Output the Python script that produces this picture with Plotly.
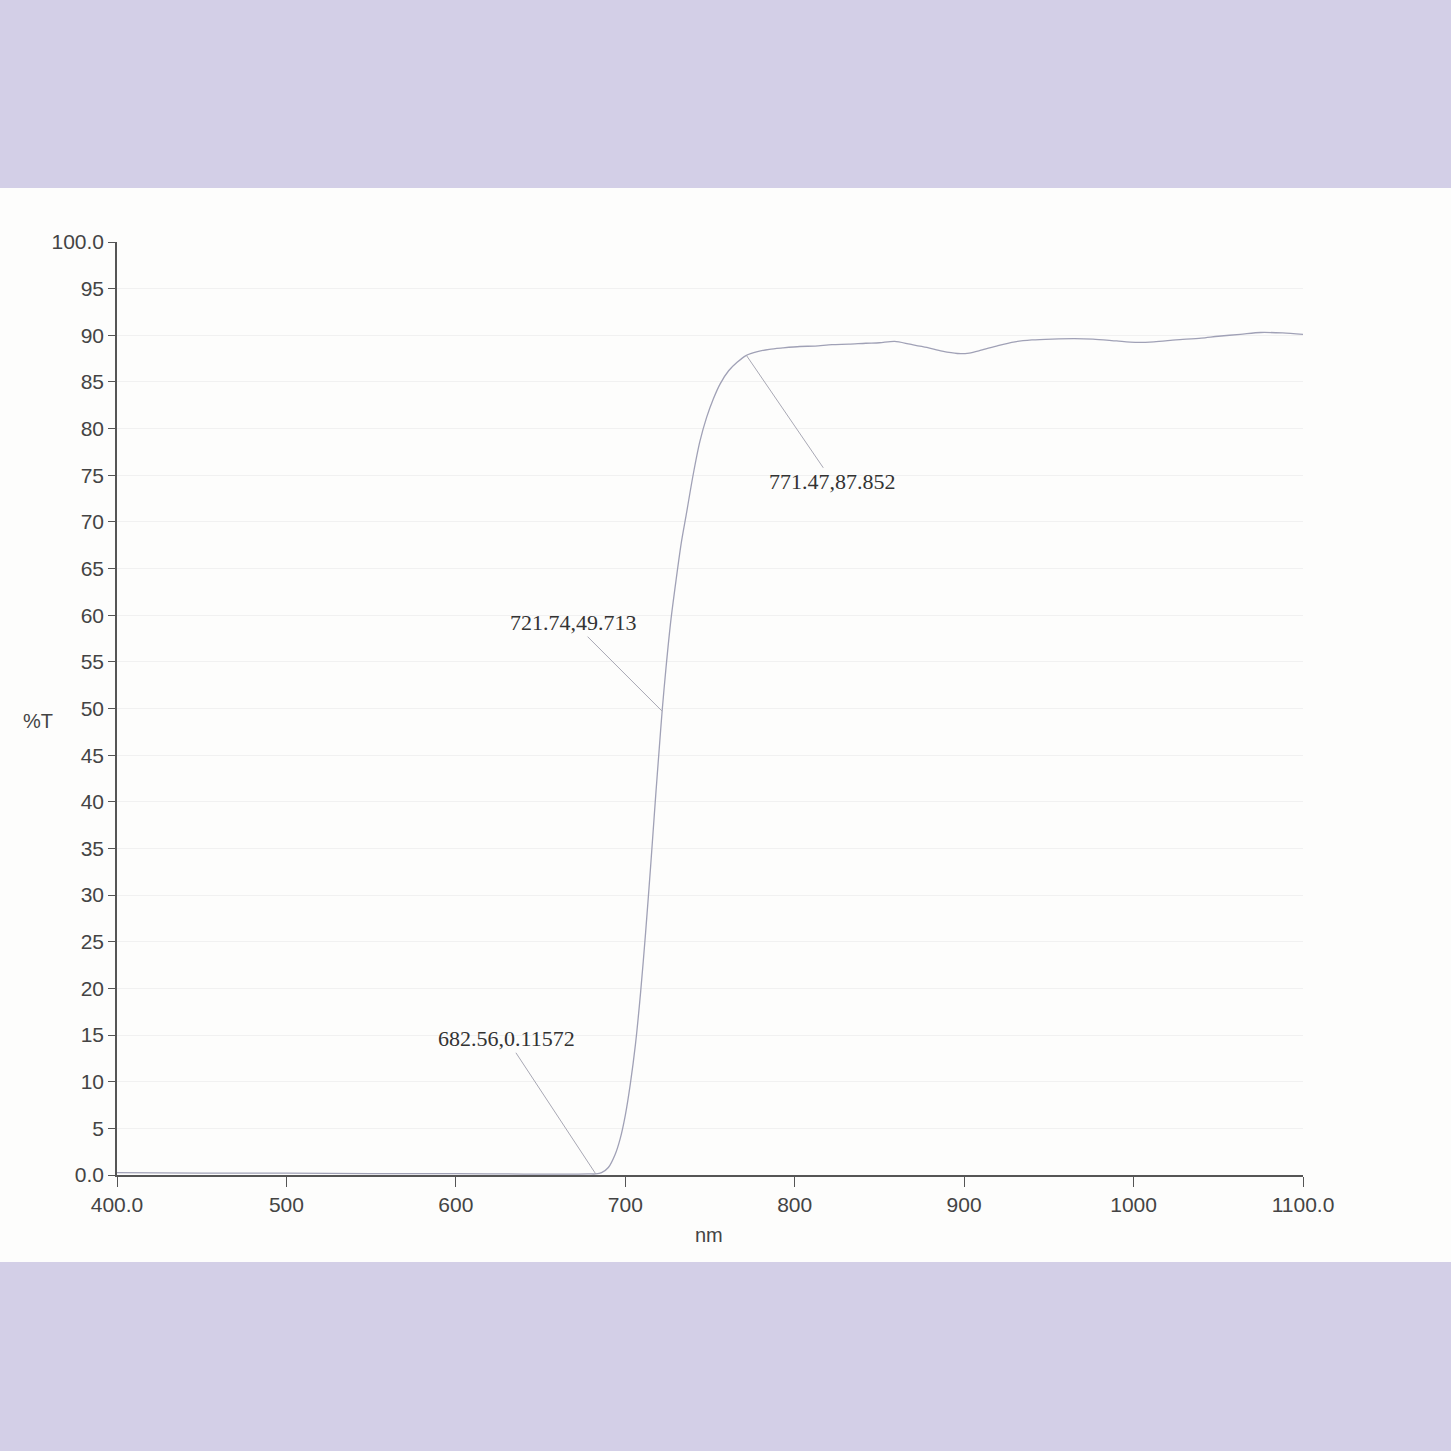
"""Transmission spectrum (%T vs nm) with three marked points."""

import plotly.graph_objects as go

# wavelength (nm) and transmittance (%T)
wavelength = [
    400, 450, 500, 550, 600, 640, 670, 678, 682.56, 686, 690, 694, 697,
    700, 703, 706, 709, 712, 715, 718, 720, 721.74, 724, 727, 730, 733,
    736, 740, 744, 748, 752, 756, 761, 766, 771.47, 778, 785, 793, 803,
    812, 822, 832, 842, 850, 859, 868, 878, 887, 896, 903, 910, 920, 930,
    940, 952, 965, 976, 990, 1001, 1012, 1025, 1040, 1050, 1063, 1075,
    1088, 1100,
]
transmittance = [
    0.25, 0.2, 0.2, 0.15, 0.15, 0.1, 0.1, 0.12, 0.11572, 0.25, 0.8, 2.2,
    3.9, 6.4, 9.8, 14.0, 19.5, 26.0, 33.2, 40.8, 45.6, 49.713, 54.3,
    59.6, 63.8, 67.7, 70.8, 75.0, 78.6, 81.2, 83.2, 84.8, 86.2, 87.1,
    87.852, 88.25, 88.5, 88.65, 88.8, 88.85, 89.0, 89.05, 89.15, 89.2,
    89.35, 89.05, 88.7, 88.3, 88.05, 88.1, 88.4, 88.9, 89.3, 89.5, 89.6,
    89.65, 89.6, 89.4, 89.25, 89.3, 89.5, 89.7, 89.9, 90.1, 90.3, 90.25,
    90.1,
]

# marked points: (nm, %T) and where the label text sits
mark_x = [682.56, 721.74, 771.47]
mark_y = [0.11572, 49.713, 87.852]
mark_text = ["682.56,0.11572", "721.74,49.713", "771.47,87.852"]
label_x = [630.0, 669.5, 822.5]
label_y = [14.6, 59.2, 74.3]

y_ticks = list(range(0, 101, 5))
y_ticktext = ["0.0"] + [str(v) for v in y_ticks[1:-1]] + ["100.0"]
x_ticks = [400, 500, 600, 700, 800, 900, 1000, 1100]
x_ticktext = ["400.0", "500", "600", "700", "800", "900", "1000", "1100.0"]

BAND = "#D3CFE7"
PAGE = "#FDFDFC"
AXIS = "#555555"

fig = go.Figure()
fig.add_trace(go.Scatter(
    x=wavelength,
    y=transmittance,
    mode="lines",
    line=dict(color="#A0A1B6", width=1.3, shape="spline", smoothing=0.8),
    hoverinfo="x+y",
    showlegend=False,
))

for px, py, txt, lx, ly in zip(mark_x, mark_y, mark_text, label_x, label_y):
    fig.add_annotation(
        x=px, y=py, ax=lx, ay=ly, axref="x", ayref="y",
        text=txt, showarrow=True, arrowhead=0, arrowwidth=1,
        arrowcolor="#A8A8B4", standoff=0,
        font=dict(family="Liberation Serif, Times New Roman, serif",
                  size=22, color="#333333"),
    )

# axis titles placed as in the scan
fig.add_annotation(x=-0.067, y=0.487, xref="paper", yref="paper", text="%T",
                   showarrow=False, xanchor="center", yanchor="middle",
                   font=dict(family="Liberation Sans, Arial", size=20, color="#444"))
fig.add_annotation(x=0.499, y=-0.064, xref="paper", yref="paper", text="nm",
                   showarrow=False, xanchor="center", yanchor="middle",
                   font=dict(family="Liberation Sans, Arial", size=20, color="#444"))

# lavender bands above and below the white page
fig.add_shape(type="rect", xref="paper", yref="paper", layer="below",
              x0=-0.2, x1=1.2, y0=1 + 54 / 933, y1=1.5,
              fillcolor=BAND, line_width=0)
fig.add_shape(type="rect", xref="paper", yref="paper", layer="below",
              x0=-0.2, x1=1.2, y0=-0.5, y1=-87 / 933,
              fillcolor=BAND, line_width=0)

fig.update_layout(
    width=1451, height=1451,
    margin=dict(l=117, r=148, t=242, b=276),
    paper_bgcolor=PAGE,
    plot_bgcolor=PAGE,
    font=dict(family="Liberation Sans, Arial", size=21, color="#444444"),
    xaxis=dict(
        range=[400, 1100], tickvals=x_ticks, ticktext=x_ticktext,
        showline=True, linecolor=AXIS, linewidth=1.5,
        ticks="outside", ticklen=10, tickcolor=AXIS,
        showgrid=False, zeroline=False,
    ),
    yaxis=dict(
        range=[0, 100], tickvals=y_ticks, ticktext=y_ticktext,
        showline=True, linecolor=AXIS, linewidth=1.5,
        ticks="outside", ticklen=7, tickcolor=AXIS,
        showgrid=True, gridcolor="#F1F1F1", gridwidth=1, zeroline=False,
    ),
)

# drop the default 8px page margin so the figure fills the window
fig.write_html(
    "out.html",
    config={"displayModeBar": False},
    post_script="document.body.style.margin='0';"
                "document.body.style.background='%s';" % BAND,
)
